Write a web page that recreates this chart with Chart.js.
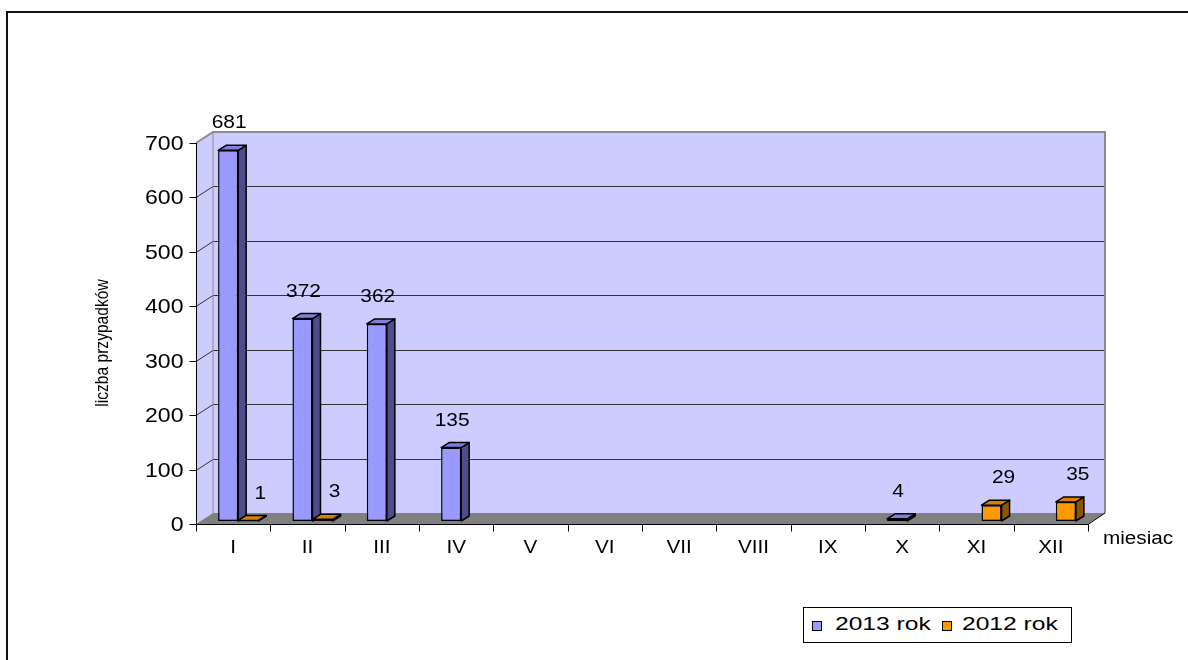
<!DOCTYPE html>
<html>
<head>
<meta charset="utf-8">
<script src="https://cdn.jsdelivr.net/npm/chart.js@4.4.1/dist/chart.umd.min.js"></script>
<style>
  body { margin: 0; background: #fff; }
  #wrap { position: relative; width: 1188px; height: 660px; overflow: hidden; }
  #frame { position: absolute; left: 6px; top: 11px; width: 1300px; height: 800px; border: 2px solid #111; }
  canvas { position: absolute; left: 0; top: 0; }
  #legend {
    position: absolute; left: 803px; top: 607px; width: 267px; height: 34px;
    border: 1px solid #000; background: #fff;
    font: 18.5px Arial, "Liberation Sans", sans-serif; color: #000;
  }
  #legend .box { position: absolute; top: 13px; width: 8px; height: 8px; border: 1px solid #000; }
  #legend .txt { position: absolute; top: 6px; line-height: 20px; white-space: nowrap; transform: scaleX(1.33); transform-origin: left center; }
</style>
</head>
<body>
<div id="wrap">
  <div id="frame"></div>
  <canvas id="chart" width="1188" height="660"></canvas>
  <div id="legend">
    <span class="box" style="left:8px;background:#9999FF"></span><span class="txt" style="left:31px">2013 rok</span>
    <span class="box" style="left:138px;background:#FF9900"></span><span class="txt" style="left:158px">2012 rok</span>
  </div>
</div>
<script>
// chart data
const months = ['I', 'II', 'III', 'IV', 'V', 'VI', 'VII', 'VIII', 'IX', 'X', 'XI', 'XII'];
const cases2013 = [681, 372, 362, 135, null, null, null, null, null, 4, null, null];
const cases2012 = [1, 3, null, null, null, null, null, null, null, null, 29, 35];
const yTicks = [0, 100, 200, 300, 400, 500, 600, 700];

const FONT = 'Arial, "Liberation Sans", sans-serif';
// 3D offsets relative to the bar plane
const FRONT = { dx: -5, dy: 3 };
const BACK = { dx: 12, dy: -8 };
const BAR_DEPTH = { dx: 8, dy: -5 };

const sideColors = ['#4D4D8C', '#8C5400'];
const topColors = ['#7F7FDD', '#D98200'];
const labelShift = [1, 12];

// excel text is drawn a bit wider than plain arial
function wideText(ctx, text, x, y, sx) {
  ctx.save();
  ctx.translate(x, y);
  ctx.scale(sx, 1);
  ctx.fillText(text, 0, 0);
  ctx.restore();
}

const fake3d = {
  id: 'fake3d',
  beforeDatasetsDraw(chart) {
    const ctx = chart.ctx;
    const y = chart.scales.y;
    const L = chart.chartArea.left, R = chart.chartArea.right;
    const y0 = y.getPixelForValue(0), yTop = y.getPixelForValue(700);
    ctx.save();
    // back wall
    ctx.fillStyle = '#CCCCFF';
    ctx.fillRect(L + BACK.dx, yTop + BACK.dy, R - L, y0 - yTop);
    // left side wall
    ctx.beginPath();
    ctx.moveTo(L + FRONT.dx, y0 + FRONT.dy);
    ctx.lineTo(L + FRONT.dx, yTop + FRONT.dy);
    ctx.lineTo(L + BACK.dx, yTop + BACK.dy);
    ctx.lineTo(L + BACK.dx, y0 + BACK.dy);
    ctx.closePath();
    ctx.fill();
    // grid lines on back wall and side wall
    ctx.strokeStyle = '#333';
    ctx.lineWidth = 1;
    yTicks.forEach(v => {
      if (v === 0 || v === 700) return;
      const py = Math.round(y.getPixelForValue(v)) + 0.5;
      ctx.beginPath();
      ctx.moveTo(L + FRONT.dx, py + FRONT.dy);
      ctx.lineTo(L + BACK.dx, py + BACK.dy);
      ctx.lineTo(R + BACK.dx, py + BACK.dy);
      ctx.stroke();
    });
    // wall borders
    ctx.strokeStyle = '#8C8C8C';
    ctx.lineWidth = 2;
    ctx.beginPath();
    ctx.moveTo(L + FRONT.dx, yTop + FRONT.dy);
    ctx.lineTo(L + BACK.dx, yTop + BACK.dy);
    ctx.lineTo(R + BACK.dx, yTop + BACK.dy);
    ctx.lineTo(R + BACK.dx, y0 + BACK.dy);
    ctx.stroke();
    ctx.lineWidth = 1;
    ctx.beginPath();
    ctx.moveTo(L + BACK.dx, yTop + BACK.dy);
    ctx.lineTo(L + BACK.dx, y0 + BACK.dy);
    ctx.stroke();
    // floor
    ctx.fillStyle = '#808080';
    ctx.beginPath();
    ctx.moveTo(L + FRONT.dx, y0 + FRONT.dy);
    ctx.lineTo(R + FRONT.dx, y0 + FRONT.dy);
    ctx.lineTo(R + BACK.dx, y0 + BACK.dy);
    ctx.lineTo(L + BACK.dx, y0 + BACK.dy);
    ctx.closePath();
    ctx.fill();
    ctx.restore();
  },
  afterDatasetsDraw(chart) {
    const ctx = chart.ctx;
    const y = chart.scales.y, x = chart.scales.x;
    const L = chart.chartArea.left, R = chart.chartArea.right;
    const y0 = y.getPixelForValue(0);
    ctx.save();
    // bar side and top faces
    ctx.strokeStyle = '#000';
    ctx.lineWidth = 1.5;
    ctx.lineJoin = 'round';
    chart.data.datasets.forEach((ds, di) => {
      const meta = chart.getDatasetMeta(di);
      meta.data.forEach((bar, i) => {
        if (ds.data[i] == null) return;
        const p = bar.getProps(['x', 'y', 'base', 'width'], true);
        const xl = p.x - p.width / 2, xr = p.x + p.width / 2;
        ctx.fillStyle = sideColors[di];
        ctx.beginPath();
        ctx.moveTo(xr, p.y);
        ctx.lineTo(xr + BAR_DEPTH.dx, p.y + BAR_DEPTH.dy);
        ctx.lineTo(xr + BAR_DEPTH.dx, p.base + BAR_DEPTH.dy);
        ctx.lineTo(xr, p.base);
        ctx.closePath();
        ctx.fill(); ctx.stroke();
        ctx.fillStyle = topColors[di];
        ctx.beginPath();
        ctx.moveTo(xl, p.y);
        ctx.lineTo(xl + BAR_DEPTH.dx, p.y + BAR_DEPTH.dy);
        ctx.lineTo(xr + BAR_DEPTH.dx, p.y + BAR_DEPTH.dy);
        ctx.lineTo(xr, p.y);
        ctx.closePath();
        ctx.fill(); ctx.stroke();
      });
    });
    // axes
    const fy = Math.round(y0 + FRONT.dy) + 0.5;
    const fx = Math.round(L + FRONT.dx) + 0.5;
    ctx.strokeStyle = '#000';
    ctx.lineWidth = 1;
    ctx.beginPath();
    ctx.moveTo(fx, y.getPixelForValue(700) + FRONT.dy);
    ctx.lineTo(fx, fy);
    ctx.lineTo(R + FRONT.dx, fy);
    ctx.lineTo(R + BACK.dx, y0 + BACK.dy);
    ctx.stroke();
    // y ticks and labels
    ctx.fillStyle = '#000';
    ctx.font = '21px ' + FONT;
    ctx.textAlign = 'right';
    ctx.textBaseline = 'middle';
    yTicks.forEach(v => {
      const py = Math.round(y.getPixelForValue(v) + FRONT.dy) + 0.5;
      ctx.beginPath();
      ctx.moveTo(fx - 7, py);
      ctx.lineTo(fx, py);
      ctx.stroke();
      wideText(ctx, String(v), fx - 13, py + 1, 1.1);
    });
    // x ticks and labels
    const step = (R - L) / months.length;
    for (let i = 0; i <= months.length; i++) {
      const px = Math.round(L + FRONT.dx + i * step) + 0.5;
      ctx.beginPath();
      ctx.moveTo(px, fy);
      ctx.lineTo(px, fy + 7);
      ctx.stroke();
    }
    ctx.font = '18px ' + FONT;
    ctx.textAlign = 'center';
    months.forEach((m, i) => {
      wideText(ctx, m, x.getPixelForValue(i) + FRONT.dx, 548, 1.15);
    });
    // axis titles
    ctx.textAlign = 'left';
    wideText(ctx, 'miesiac', 1103, 539, 1.15);
    ctx.save();
    ctx.translate(103, 343);
    ctx.rotate(-Math.PI / 2);
    ctx.scale(0.82, 1);
    ctx.textAlign = 'center';
    ctx.font = '19px ' + FONT;
    ctx.fillText('liczba przypadków', 0, 0);
    ctx.restore();
    // value labels
    ctx.font = '18.5px ' + FONT;
    ctx.textAlign = 'center';
    chart.data.datasets.forEach((ds, di) => {
      const meta = chart.getDatasetMeta(di);
      meta.data.forEach((bar, i) => {
        if (ds.data[i] == null) return;
        wideText(ctx, String(ds.data[i]), bar.x + labelShift[di], bar.y - 27, 1.13);
      });
    });
    ctx.restore();
  }
};

new Chart(document.getElementById('chart'), {
  type: 'bar',
  data: {
    labels: months,
    datasets: [
      {
        label: '2013 rok',
        data: cases2013,
        backgroundColor: '#9999FF',
        borderColor: '#000',
        borderWidth: 1.5,
        borderSkipped: false,
        barPercentage: 1,
        categoryPercentage: 0.54
      },
      {
        label: '2012 rok',
        data: cases2012,
        backgroundColor: '#FF9900',
        borderColor: '#000',
        borderWidth: 1.5,
        borderSkipped: false,
        barPercentage: 1,
        categoryPercentage: 0.54
      }
    ]
  },
  options: {
    responsive: false,
    animation: false,
    layout: { padding: { left: 201, right: 95, top: 140, bottom: 139 } },
    plugins: {
      legend: { display: false },
      tooltip: { enabled: false }
    },
    scales: {
      x: { display: false },
      y: { display: false, min: 0, max: 700, ticks: { stepSize: 100 } }
    }
  },
  plugins: [fake3d]
});
</script>
</body>
</html>
